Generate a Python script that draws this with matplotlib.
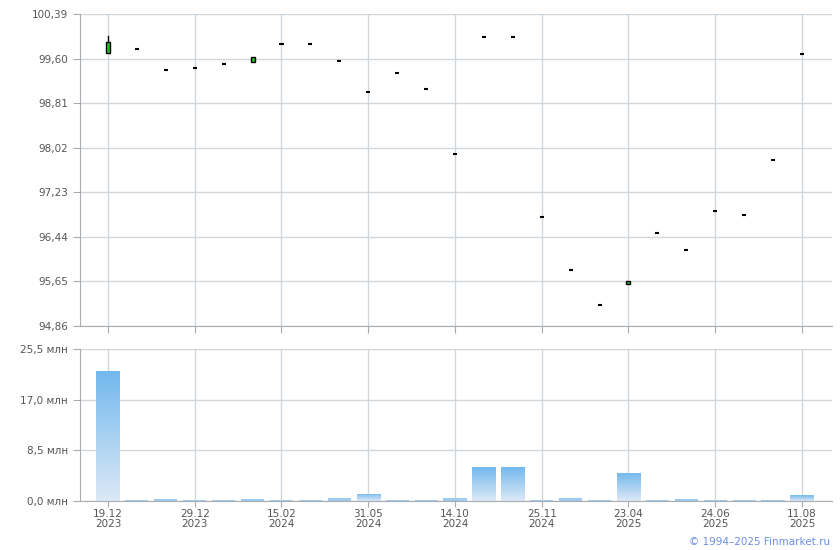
import numpy as np
import matplotlib.pyplot as plt
from matplotlib.patches import Rectangle
from matplotlib.colors import LinearSegmentedColormap

# candle data (one per trading session shown)
opens = [99.70, 99.77, 99.39, 99.44, 99.50, 99.54, 99.86, 99.86, 99.56, 99.01,
         99.34, 99.06, 97.90, 99.98, 99.99, 96.80, 95.85, 95.24, 95.61, 96.50,
         96.20, 96.89, 96.82, 97.81, 99.69]
closes = [99.89, 99.77, 99.39, 99.44, 99.50, 99.63, 99.86, 99.86, 99.56, 99.01,
          99.34, 99.06, 97.90, 99.98, 99.99, 96.80, 95.85, 95.24, 95.66, 96.50,
          96.20, 96.89, 96.82, 97.81, 99.69]
highs = [100.00, 99.77, 99.39, 99.44, 99.50, 99.63, 99.86, 99.86, 99.56, 99.01,
         99.34, 99.06, 97.90, 99.98, 99.99, 96.80, 95.85, 95.24, 95.66, 96.50,
         96.20, 96.89, 96.82, 97.81, 99.69]
volumes = [21.8, 0.15, 0.35, 0.15, 0.15, 0.35, 0.15, 0.15, 0.5, 1.2,
           0.15, 0.15, 0.5, 5.7, 5.7, 0.15, 0.5, 0.15, 4.7, 0.15,
           0.35, 0.15, 0.15, 0.15, 1.0]
tick_idx = [0, 3, 6, 9, 12, 15, 18, 21, 24]
tick_labels = ["19.12\n2023", "29.12\n2023", "15.02\n2024", "31.05\n2024", "14.10\n2024",
               "25.11\n2024", "23.04\n2025", "24.06\n2025", "11.08\n2025"]
price_ticks = [94.86, 95.65, 96.44, 97.23, 98.02, 98.81, 99.60, 100.39]
vol_ticks = [0.0, 8.5, 17.0, 25.5]

grid_c = "#d0d7dc"
spine_c = "#a8acb0"
text_c = "#555555"

fig = plt.figure(figsize=(8.4, 5.5), dpi=100)
ax1 = fig.add_axes([0.0952, 0.4073, 0.8953, 0.5672])
ax2 = fig.add_axes([0.0952, 0.0891, 0.8953, 0.2764])

x = np.arange(len(opens))
xlim = (-0.97, 25.04)

for ax in (ax1, ax2):
    ax.set_xlim(*xlim)
    ax.set_xticks(tick_idx)
    ax.grid(True, color=grid_c, linewidth=1)
    ax.set_axisbelow(True)
    for s in ("top", "right"):
        ax.spines[s].set_visible(False)
    for s in ("left", "bottom"):
        ax.spines[s].set_color(spine_c)
    ax.tick_params(colors=spine_c, labelcolor=text_c, length=5, labelsize=7.5)
ax2.tick_params(axis="x", pad=1.5, length=4)

# candles
w = 0.14
for i in x:
    o, c, h = opens[i], closes[i], highs[i]
    lo, hi = min(o, c), max(o, c)
    if h > hi:
        ax1.plot([i, i], [hi, h], color="black", linewidth=1, zorder=3)
    if hi - lo < 0.03:
        ax1.plot([i - w / 2, i + w / 2], [o, o], color="black", linewidth=1.5,
                 solid_capstyle="butt", zorder=3)
    else:
        ax1.add_patch(Rectangle((i - w / 2, lo), w, hi - lo, facecolor="#22c322",
                                edgecolor="black", linewidth=1, zorder=3))

ax1.set_ylim(price_ticks[0], price_ticks[-1])
ax1.set_yticks(price_ticks)
ax1.set_yticklabels([f"{v:.2f}".replace(".", ",") for v in price_ticks])
ax1.set_xticklabels([])

# volume bars with vertical gradient (tiny bars just flat light blue)
grad = np.linspace(0, 1, 256).reshape(-1, 1)
cmap = LinearSegmentedColormap.from_list("vol", ["#dde9f6", "#72b8ee"])
bw = 0.8
bars = ax2.bar(x, volumes, width=bw, color="#9fcbf0", edgecolor="none", zorder=2)
for rect, v in zip(bars, volumes):
    if v < 1.0:
        continue
    im = ax2.imshow(grad, extent=(rect.get_x(), rect.get_x() + bw, 0, v),
                    origin="lower", aspect="auto", cmap=cmap, zorder=2.5)
    im.set_clip_path(rect)
ax2.set_xlim(*xlim)
ax2.set_ylim(0, 25.5)
ax2.set_yticks(vol_ticks)
ax2.set_yticklabels([f"{v:.1f}".replace(".", ",") + " млн" for v in vol_ticks])
ax2.set_xticklabels(tick_labels, linespacing=1.1)

fig.text(0.988, 0.006, "© 1994–2025 Finmarket.ru", ha="right", va="bottom",
         color="#6b8fe3", fontsize=7.5)

fig.savefig("out.png", dpi=100)
